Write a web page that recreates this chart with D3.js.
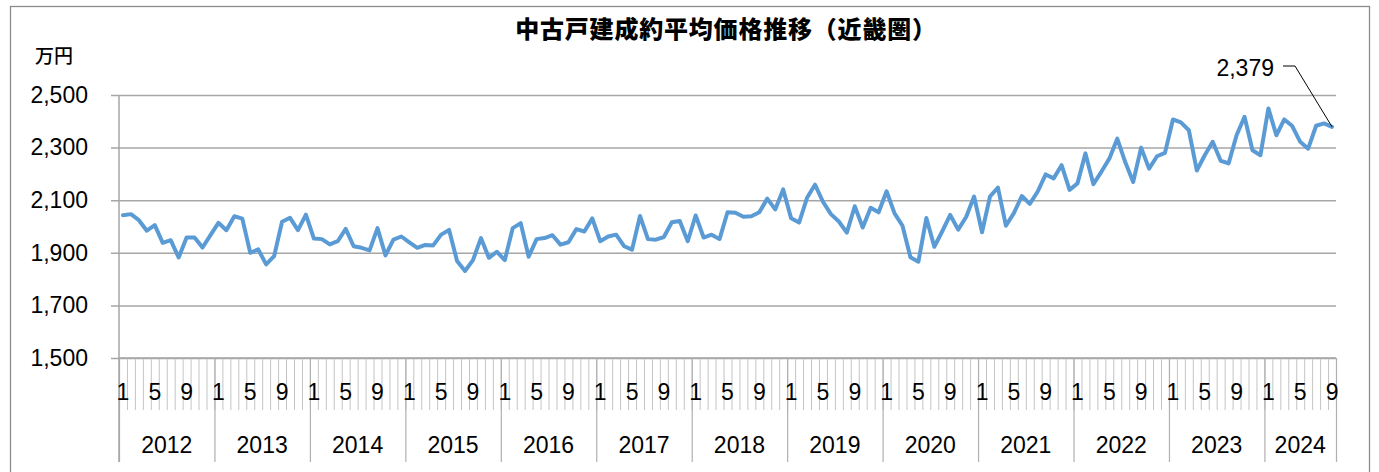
<!DOCTYPE html>
<html>
<head>
<meta charset="utf-8">
<script src="https://cdn.jsdelivr.net/npm/d3@7"></script>
<style>
html,body{margin:0;padding:0;background:#fff;}
svg{display:block;}
</style>
</head>
<body>
<svg id="chart" width="1379" height="472"></svg>
<script>
const title = "中古戸建成約平均価格推移（近畿圏）";
const unitLabel = "万円";
const years = ["2012","2013","2014","2015","2016","2017","2018","2019","2020","2021","2022","2023","2024"];
const monthLabels = ["1","5","9"];
const yTicks = [1500,1700,1900,2100,2300,2500];
const prices2012 = [2043,2047,2024,1984,2005,1938,1948,1882,1958,1958,1920,1967];
const prices2013 = [2014,1986,2039,2030,1900,1913,1856,1887,2018,2033,1986,2045];
const prices2014 = [1954,1952,1932,1944,1991,1925,1919,1909,1994,1890,1950,1962];
const prices2015 = [1940,1919,1930,1928,1969,1987,1869,1831,1872,1956,1881,1904];
const prices2016 = [1872,1994,2013,1885,1952,1956,1967,1931,1940,1990,1981,2031];
const prices2017 = [1944,1962,1969,1925,1912,2040,1952,1950,1960,2016,2021,1944];
const prices2018 = [2042,1958,1969,1952,2054,2052,2037,2039,2054,2106,2065,2141];
const prices2019 = [2031,2015,2109,2159,2094,2047,2019,1977,2077,1996,2071,2054];
const prices2020 = [2134,2050,2003,1883,1866,2032,1923,1982,2044,1988,2036,2114];
const prices2021 = [1978,2114,2148,2003,2051,2116,2086,2133,2198,2183,2233,2139];
const prices2022 = [2164,2278,2161,2208,2258,2334,2245,2169,2300,2220,2267,2280];
const prices2023 = [2407,2396,2366,2213,2271,2322,2250,2240,2347,2417,2290,2271];
const prices2024 = [2449,2347,2407,2382,2322,2296,2383,2392,2379];
const lastLabel = "2,379";

(function () {
const series = [prices2012,prices2013,prices2014,prices2015,prices2016,prices2017,prices2018,
  prices2019,prices2020,prices2021,prices2022,prices2023,prices2024];
const data = [];
series.forEach((arr, yi) => arr.forEach((v, mi) => data.push({year: years[yi], month: mi + 1, value: v})));
const N = data.length;

const svg = d3.select("#chart");
const numFont = "'Liberation Sans', Arial, sans-serif";
const cjkFont = "'Noto Sans CJK JP', sans-serif";

// outer border
svg.append("rect").attr("x", 10.5).attr("y", 6.5).attr("width", 1359).attr("height", 470)
  .attr("fill", "#fff").attr("stroke", "#8c8c8c").attr("stroke-width", 1.3);

const pLeft = 119, pRight = 1336, pTop = 95, pBottom = 358;
const x = d3.scaleBand().domain(d3.range(N)).range([pLeft, pRight]).paddingInner(0).paddingOuter(0);
const xb = d3.scaleLinear().domain([0, N]).range([pLeft, pRight]);
const y = d3.scaleLinear().domain([1500, 2500]).range([pBottom, pTop]);

// y gridlines + labels
const yAxis = d3.axisLeft(y).tickValues(yTicks).tickSizeInner(-(pRight - 111)).tickSizeOuter(0)
  .tickPadding(23).tickFormat(d3.format(","));
const gy = svg.append("g").attr("transform", "translate(111,0)").call(yAxis);
gy.select(".domain").remove();
gy.selectAll(".tick line").attr("stroke", "#a6a6a6").attr("stroke-width", 1.5);
gy.selectAll(".tick text").attr("font-family", numFont).attr("font-size", 23).attr("fill", "#000");

// x month separator ticks
const gm = svg.append("g").attr("transform", `translate(0,${pBottom})`)
  .call(d3.axisBottom(xb).tickValues(d3.range(0, N + 1)).tickSizeInner(52).tickSizeOuter(0).tickFormat(""));
gm.select(".domain").remove();
gm.selectAll(".tick line").attr("stroke", "#c4c4c4").attr("stroke-width", 1);

// year separator ticks
const yearBounds = d3.range(0, N, 12).concat([N]);
const gyb = svg.append("g").attr("transform", `translate(0,${pBottom})`)
  .call(d3.axisBottom(xb).tickValues(yearBounds).tickSizeInner(104).tickSizeOuter(0).tickFormat(""));
gyb.select(".domain").remove();
gyb.selectAll(".tick line").attr("stroke", "#b0b0b0").attr("stroke-width", 1.2);

// axis lines
svg.append("line").attr("x1", pLeft).attr("x2", pRight).attr("y1", pBottom).attr("y2", pBottom)
  .attr("stroke", "#a6a6a6").attr("stroke-width", 1.5);
svg.append("line").attr("x1", pLeft).attr("x2", pLeft).attr("y1", pTop).attr("y2", pBottom + 104)
  .attr("stroke", "#a6a6a6").attr("stroke-width", 1.5);

// month labels
const monthIdx = d3.range(N).filter(i => monthLabels.includes(String(data[i].month)));
const gml = svg.append("g").attr("transform", `translate(0,${pBottom})`)
  .call(d3.axisBottom(x).tickValues(monthIdx).tickSize(0).tickPadding(26)
    .tickFormat(i => String(data[i].month)));
gml.select(".domain").remove();
gml.selectAll(".tick text").attr("font-family", numFont).attr("font-size", 23).attr("fill", "#000");

// year labels
const gyl = svg.append("g");
years.forEach((yr, yi) => {
  const s = yi * 12, e = Math.min(N, s + 12);
  gyl.append("text").attr("x", xb((s + e) / 2)).attr("y", 445)
    .attr("text-anchor", "middle").attr("dominant-baseline", "central")
    .attr("font-family", numFont).attr("font-size", 23).attr("fill", "#000").text(yr);
});

// line
const line = d3.line().x((d, i) => x(i) + x.bandwidth() / 2).y(d => y(d.value));
svg.append("path").datum(data).attr("d", line).attr("fill", "none")
  .attr("stroke", "#5b9bd5").attr("stroke-width", 4).attr("stroke-linejoin", "round").attr("stroke-linecap", "round");

// last value label with leader
const lx = x(N - 1) + x.bandwidth() / 2, ly = y(data[N - 1].value);
svg.append("path").attr("d", `M1283,66 L1295,66 L${lx},${ly}`).attr("fill", "none")
  .attr("stroke", "#000").attr("stroke-width", 1);
svg.append("text").attr("x", 1274).attr("y", 68).attr("text-anchor", "end").attr("dominant-baseline", "central")
  .attr("font-family", numFont).attr("font-size", 23).attr("fill", "#000").text(lastLabel);

// title and unit
svg.append("text").attr("x", 726).attr("y", 27).attr("text-anchor", "middle").attr("dominant-baseline", "central")
  .attr("font-family", cjkFont).attr("font-weight", 900).attr("font-size", 24).attr("letter-spacing", 0.8)
  .attr("fill", "#000").text(title);
svg.append("text").attr("x", 35).attr("y", 54).attr("dominant-baseline", "central")
  .attr("font-family", cjkFont).attr("font-weight", 500).attr("font-size", 19).attr("fill", "#000").text(unitLabel);
})();
</script>
</body>
</html>
